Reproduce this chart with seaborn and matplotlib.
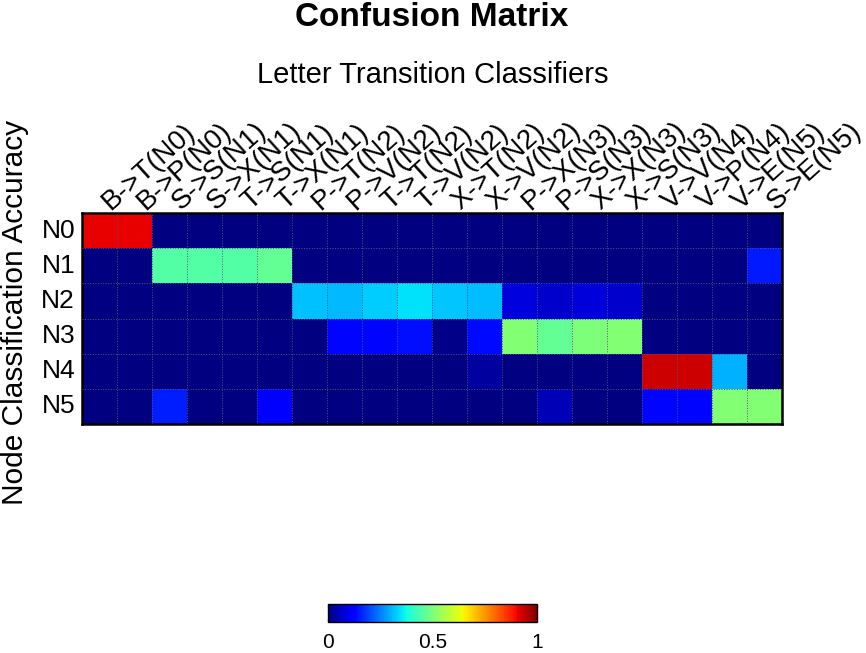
import matplotlib
matplotlib.use("Agg")
import matplotlib.pyplot as plt
import matplotlib.transforms as mtransforms
import seaborn as sns
import numpy as np
import pandas as pd

# row / column names of the confusion matrix
nodes = ["N0", "N1", "N2", "N3", "N4", "N5"]
transitions = ["B->T(N0)", "B->P(N0)", "S->S(N1)", "S->X(N1)", "T->S(N1)",
               "T->X(N1)", "P->T(N2)", "P->V(N2)", "T->T(N2)", "T->V(N2)",
               "X->T(N2)", "X->V(N2)", "P->X(N3)", "P->S(N3)", "X->X(N3)",
               "X->S(N3)", "V->V(N4)", "V->P(N4)", "V->E(N5)", "S->E(N5)"]

# accuracy values, one list per node
acc_n0 = [0.91, 0.91, 0, 0, 0, 0, 0, 0, 0, 0, 0, 0, 0, 0, 0, 0, 0, 0, 0, 0]
acc_n1 = [0, 0, 0.45, 0.45, 0.45, 0.47, 0, 0, 0, 0, 0, 0, 0, 0, 0, 0, 0, 0, 0, 0.15]
acc_n2 = [0, 0, 0, 0, 0, 0, 0.315, 0.305, 0.325, 0.345, 0.32, 0.31,
          0.085, 0.07, 0.08, 0.07, 0, 0, 0, 0]
acc_n3 = [0, 0, 0, 0, 0, 0, 0, 0.13, 0.13, 0.14, 0.01, 0.135,
          0.51, 0.47, 0.50, 0.51, 0, 0, 0, 0]
acc_n4 = [0, 0, 0, 0, 0, 0, 0, 0, 0, 0, 0, 0.03, 0, 0, 0, 0, 0.93, 0.93, 0.30, 0]
acc_n5 = [0, 0, 0.155, 0, 0, 0.11, 0, 0, 0, 0, 0, 0, 0, 0.05, 0, 0,
          0.13, 0.13, 0.51, 0.51]

cbar_ticks = [0, 0.5, 1]

df = pd.DataFrame([acc_n0, acc_n1, acc_n2, acc_n3, acc_n4, acc_n5],
                  index=nodes, columns=transitions)

sns.set_style("white")
plt.rcParams['font.family'] = ['Liberation Sans', 'DejaVu Sans']
plt.rcParams['text.color'] = 'black'
plt.rcParams['xtick.color'] = 'black'
plt.rcParams['ytick.color'] = 'black'
plt.rcParams['axes.labelcolor'] = 'black'

fig = plt.figure(figsize=(8.66, 6.53), dpi=100)
ax = fig.add_axes([82 / 866, 1 - 424 / 653, 700 / 866, 211 / 653])
cax = fig.add_axes([328 / 866, 1 - 622 / 653, 209 / 866, 18 / 653])

sns.heatmap(df, ax=ax, cmap="jet", vmin=0, vmax=1, cbar_ax=cax,
            cbar_kws={"orientation": "horizontal", "ticks": cbar_ticks})

# tick labels on top, rotated like the original
ax.xaxis.tick_top()
ax.set_xticklabels(transitions, rotation=42, ha="left", va="baseline",
                   rotation_mode="anchor", fontsize=20)
ax.set_yticklabels(nodes, rotation=0, fontsize=19)
ax.tick_params(axis="both", length=0)
ax.tick_params(axis="x", pad=2)
ax.tick_params(axis="y", pad=5)
ax.set_xlabel("")
ax.set_ylabel("")

# nudge the slanted labels a little to the right
shift = mtransforms.ScaledTranslation(11 / 100, 0, fig.dpi_scale_trans)
for lab in ax.get_xticklabels():
    lab.set_transform(lab.get_transform() + shift)

# dotted cell grid
ax.set_xticks(np.arange(1, len(transitions)), minor=True)
ax.set_yticks(np.arange(1, len(nodes)), minor=True)
ax.grid(which="minor", linestyle=":", color="#55557a", linewidth=0.7)
ax.grid(which="major", visible=False)
ax.tick_params(which="minor", length=0)
ax.set_axisbelow(False)

for side in ax.spines.values():
    side.set_visible(True)
    side.set_color("black")
    side.set_linewidth(1.8)

# colorbar styling
cax.tick_params(direction="in", length=3, top=True, bottom=True,
                labeltop=False, labelbottom=True, labelsize=15, pad=8)
cax.set_xticklabels(["0", "0.5", "1"])
cbar = ax.collections[0].colorbar
cbar.outline.set_visible(True)
cbar.outline.set_edgecolor("black")
cbar.outline.set_linewidth(1)

fig.text(0.498, 1 - 18 / 653, "Confusion Matrix", ha="center", va="center",
         fontsize=24, fontweight="bold")
fig.text(0.5, 1 - 75 / 653, "Letter Transition Classifiers", ha="center",
         va="center", fontsize=21)
fig.text(15 / 866, 1 - 312 / 653, "Node Classification Accuracy", rotation=90,
         ha="center", va="center", fontsize=21.5)

fig.savefig("out.png", dpi=100)
